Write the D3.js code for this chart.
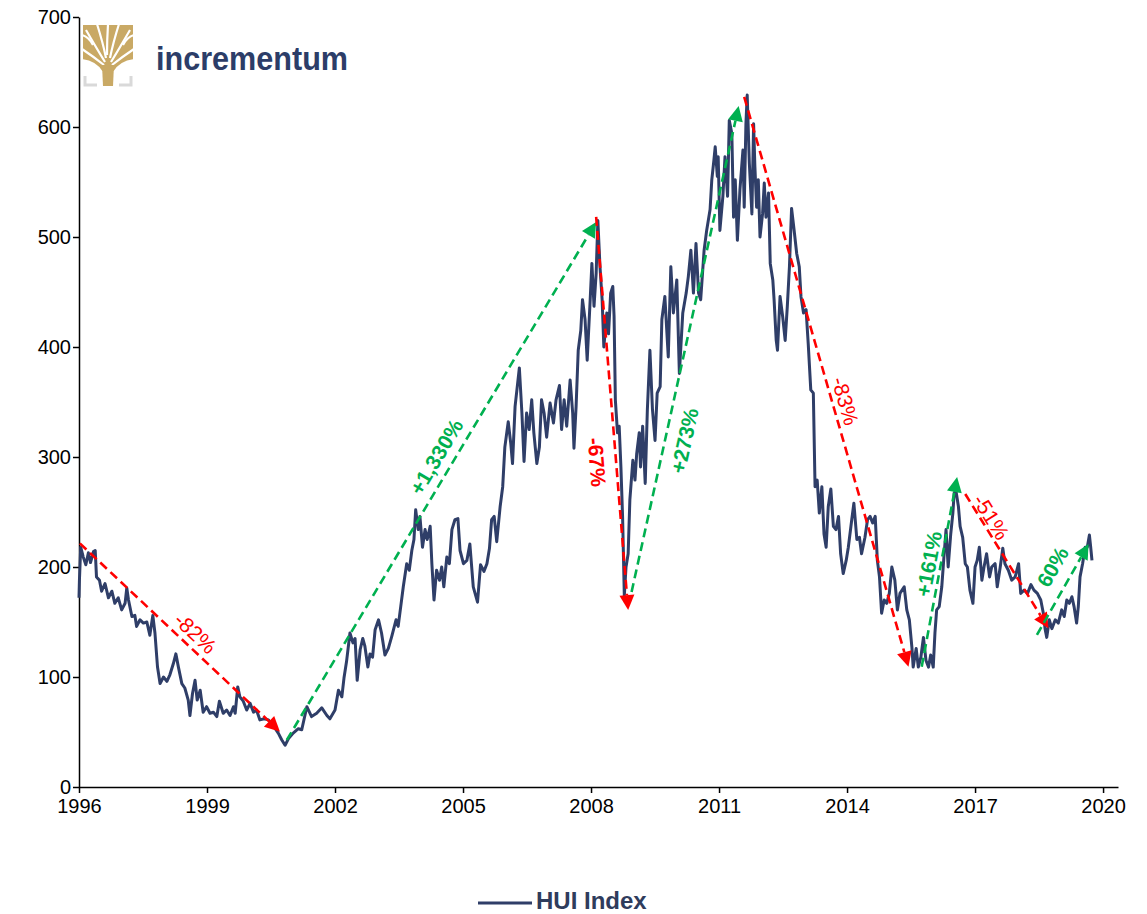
<!DOCTYPE html>
<html>
<head>
<meta charset="utf-8">
<script src="https://cdn.jsdelivr.net/npm/d3@7"></script>
<style>
  html, body { margin: 0; padding: 0; background: #fff; }
  svg { display: block; font-family: "Liberation Sans", Arial, sans-serif; }
</style>
</head>
<body>
<svg id="chart" width="1147" height="914"></svg>
<script>
// ---------------- DATA ----------------
const seriesName = "HUI Index";

const dates = [
  1996.00,1996.01,1996.04,1996.10,1996.16,1996.22,1996.27,1996.34,1996.38,1996.41,1996.48,1996.53,1996.61,1996.69,1996.77,1996.84,1996.92,
  1997.00,1997.08,1997.12,1997.16,1997.24,1997.31,1997.35,1997.43,1997.51,1997.59,1997.66,1997.73,1997.78,1997.84,1997.90,1997.98,
  1998.06,1998.13,1998.21,1998.27,1998.33,1998.41,1998.48,1998.56,1998.60,1998.66,1998.72,1998.77,1998.84,1998.91,1998.99,
  1999.07,1999.15,1999.23,1999.29,1999.38,1999.46,1999.54,1999.62,1999.66,1999.72,1999.77,1999.85,1999.93,
  2000.01,2000.09,2000.16,2000.24,2000.34,2000.44,2000.55,2000.67,2000.75,2000.83,2000.91,
  2001.02,2001.14,2001.22,2001.34,2001.45,2001.57,2001.69,2001.81,2001.88,
  2002.00,2002.08,2002.16,2002.21,2002.27,2002.35,2002.42,2002.47,2002.52,2002.59,2002.65,2002.70,2002.77,2002.82,2002.88,2002.94,
  2003.02,2003.09,2003.17,2003.25,2003.33,2003.43,2003.48,2003.54,2003.60,2003.68,2003.74,2003.80,2003.85,2003.89,2003.95,2003.99,
  2004.05,2004.11,2004.16,2004.23,2004.27,2004.32,2004.38,2004.45,2004.50,2004.55,2004.62,2004.68,2004.74,2004.81,2004.88,2004.93,
  2005.01,2005.09,2005.16,2005.24,2005.34,2005.41,2005.49,2005.56,2005.62,2005.67,2005.73,2005.79,2005.87,2005.93,2005.98,
  2006.06,2006.12,2006.16,2006.22,2006.32,2006.38,2006.43,2006.49,2006.55,2006.61,2006.66,2006.73,2006.79,2006.84,2006.90,2006.96,
  2007.04,2007.12,2007.18,2007.26,2007.31,2007.37,2007.43,2007.51,2007.57,2007.60,2007.65,2007.70,2007.76,2007.80,2007.86,2007.91,2007.98,
  2008.02,2008.07,2008.12,2008.16,2008.21,2008.26,2008.30,2008.37,2008.41,2008.46,2008.51,2008.54,2008.57,2008.62,2008.66,2008.70,2008.74,2008.78,2008.82,2008.87,2008.91,2008.98,
  2009.03,2009.07,2009.13,2009.16,2009.21,2009.27,2009.32,2009.38,2009.44,2009.50,2009.55,2009.62,2009.66,2009.73,2009.81,2009.87,2009.93,
  2010.01,2010.07,2010.15,2010.23,2010.28,2010.34,2010.40,2010.46,2010.52,2010.57,2010.65,2010.71,2010.79,2010.83,2010.88,2010.91,2010.96,2010.98,
  2011.02,2011.09,2011.14,2011.20,2011.24,2011.30,2011.34,2011.38,2011.43,2011.49,2011.56,2011.59,2011.63,2011.66,2011.71,2011.77,2011.81,2011.84,2011.88,2011.92,2011.96,
  2012.02,2012.06,2012.10,2012.16,2012.20,2012.26,2012.29,2012.34,2012.37,2012.43,2012.49,2012.55,2012.60,2012.65,2012.70,2012.76,2012.82,2012.88,2012.92,2012.98,
  2013.04,2013.09,2013.15,2013.21,2013.25,2013.30,2013.35,2013.41,2013.46,2013.51,2013.56,2013.62,2013.68,2013.74,2013.80,2013.85,2013.91,2013.98,
  2014.03,2014.11,2014.16,2014.23,2014.29,2014.34,2014.42,2014.48,2014.54,2014.60,2014.66,2014.71,2014.76,2014.81,2014.87,2014.93,2014.99,
  2015.05,2015.12,2015.18,2015.24,2015.34,2015.40,2015.46,2015.52,2015.55,2015.62,2015.67,2015.73,2015.79,2015.85,2015.91,2015.96,
  2016.02,2016.06,2016.10,2016.16,2016.22,2016.27,2016.32,2016.37,2016.43,2016.48,2016.51,2016.55,2016.61,2016.65,2016.71,2016.77,2016.82,2016.88,2016.95,
  2017.00,2017.05,2017.10,2017.16,2017.21,2017.27,2017.34,2017.39,2017.47,2017.52,2017.59,2017.65,2017.70,2017.78,2017.86,2017.94,
  2018.02,2018.07,2018.15,2018.23,2018.31,2018.38,2018.46,2018.54,2018.60,2018.64,2018.68,2018.74,2018.80,2018.88,2018.95,
  2019.03,2019.09,2019.15,2019.21,2019.27,2019.32,2019.38,2019.42,2019.46,2019.52,2019.58,2019.63,2019.68,2019.71,2019.74
];

const values = [
  172,188,218,209,202,213,204,214,215,191,188,178,185,172,178,167,172,
  161,167,181,170,155,156,146,152,149,150,138,156,140,109,94,100,
  96,102,112,121,109,94,90,79,65,85,97,79,88,68,73,
  67,68,64,78,67,70,65,73,67,91,82,78,70,
  76,68,70,61,62,61,56,49,43,38,44,
  49,53,52,73,64,67,72,65,62,
  70,88,82,99,114,140,131,135,97,125,135,128,109,121,118,143,
  152,140,120,126,137,152,146,164,182,203,197,215,225,252,234,246,
  218,234,225,237,203,170,197,188,200,182,209,203,234,243,244,215,
  203,206,221,182,168,202,196,203,217,243,246,223,255,273,309,
  332,312,294,346,381,340,296,340,325,352,322,294,309,352,340,318,
  349,331,352,365,325,352,328,370,340,308,346,397,415,443,425,388,443,
  476,437,467,515,473,443,400,431,412,449,455,428,352,322,328,291,245,174,200,212,261,297,
  279,303,322,291,328,276,343,397,343,315,358,364,425,446,391,473,431,
  461,376,431,449,464,488,449,494,449,443,488,506,525,552,570,582,555,573,
  506,537,573,537,606,594,518,552,497,543,579,527,603,629,567,521,603,564,527,552,500,
  521,549,518,540,476,461,443,406,397,446,428,406,437,473,526,506,485,473,446,431,
  434,403,361,358,273,279,249,273,230,218,255,271,237,234,246,212,194,206,
  218,243,258,225,227,212,227,243,246,240,246,206,191,158,170,167,176,
  200,188,161,176,182,161,152,127,109,126,109,118,136,115,109,120,
  109,140,161,164,182,209,234,200,230,249,267,270,255,237,227,203,200,179,167,
  200,206,218,188,200,212,191,200,203,182,200,217,203,197,188,191,
  203,176,179,176,184,179,176,170,158,144,136,152,144,152,149,
  161,155,170,167,173,164,149,164,191,203,218,218,229,218,206
];

const yTicks = [0, 100, 200, 300, 400, 500, 600, 700];
const xTicks = [1996, 1999, 2002, 2005, 2008, 2011, 2014, 2017, 2020];
const xTickLabels = ["1996", "1999", "2002", "2005", "2008", "2011", "2014", "2017", "2020"];

// Annotated moves: label, start (date, value), end (date, value), direction
const moveLabels = ["-82%", "+1,330%", "-67%", "+273%", "-83%", "+161%", "-51%", "60%"];
const moveStartDates = [1996.02, 2000.87, 2008.12, 2008.95, 2011.59, 2015.75, 2016.77, 2018.45];
const moveStartValues = [221.5, 42.7, 518.2, 177.3, 627.3, 109.4, 266.4, 138.2];
const moveEndDates = [2000.71, 2008.12, 2008.87, 2011.46, 2015.44, 2016.58, 2018.72, 2019.66];
const moveEndValues = [50.3, 513.6, 160.9, 619.0, 109.4, 281.8, 144.3, 220.9];
const moveIsUp = [false, true, false, true, false, true, false, true];

// ---------------- LAYOUT / STYLE ----------------
const labelPlacement = [
  { f: 0.53, off: 14, bold: false },
  { f: 0.53, off: 17, bold: true },
  { f: 0.62, off: -19, bold: true },
  { f: 0.32, off: -19, bold: true },
  { f: 0.54, off: 13, bold: false },
  { f: 0.53, off: 12, bold: true },
  { f: 0.21, off: 10, bold: false },
  { f: 0.64, off: 20, bold: true }
];
const RED = "#FF0000", GREEN = "#00B050", NAVY = "#2F3E68";

const svg = d3.select("#chart");
svg.append("rect").attr("width", 1147).attr("height", 914).attr("fill", "#fff");

const x = d3.scaleLinear().domain([1996, 2020.35]).range([79, 1118]);
const y = d3.scaleLinear().domain([0, 700]).range([787, 17]);

// Axes
const yAxis = svg.append("g").attr("transform", "translate(79,0)")
  .call(d3.axisLeft(y).tickValues(yTicks).tickSize(6).tickSizeOuter(0).tickPadding(2));
const xAxis = svg.append("g").attr("transform", "translate(0,787)")
  .call(d3.axisBottom(x).tickValues(xTicks).tickSize(6).tickSizeOuter(0).tickPadding(6)
    .tickFormat((d, i) => xTickLabels[i]));
[yAxis, xAxis].forEach(g => {
  g.selectAll("path, line").attr("stroke", "#000").attr("stroke-width", 1.5);
  g.selectAll("text").attr("fill", "#000").style("font-size", "20px")
    .style("font-family", "'Liberation Sans', Arial, sans-serif");
});

// Series line
const data = dates.map((d, i) => ({ t: d, v: values[i] }));
svg.append("path").datum(data)
  .attr("fill", "none").attr("stroke", NAVY).attr("stroke-width", 3)
  .attr("stroke-linejoin", "round")
  .attr("d", d3.line().x(d => x(d.t)).y(d => y(d.v)));

// Annotation arrows
const headLen = 15, headHalf = 7.5;
moveLabels.forEach((lab, i) => {
  const col = moveIsUp[i] ? GREEN : RED;
  const x0 = x(moveStartDates[i]), y0 = y(moveStartValues[i]);
  const x1 = x(moveEndDates[i]), y1 = y(moveEndValues[i]);
  const dx = x1 - x0, dy = y1 - y0, len = Math.hypot(dx, dy);
  const ux = dx / len, uy = dy / len;
  const bx = x1 - ux * headLen, by = y1 - uy * headLen;
  svg.append("line")
    .attr("x1", x0).attr("y1", y0).attr("x2", bx).attr("y2", by)
    .attr("stroke", col).attr("stroke-width", 2.6).attr("stroke-dasharray", "9,5");
  const nx = -uy, ny = ux;
  svg.append("path")
    .attr("d", `M${x1},${y1}L${bx + nx * headHalf},${by + ny * headHalf}L${bx - nx * headHalf},${by - ny * headHalf}Z`)
    .attr("fill", col);
  const p = labelPlacement[i];
  const ang = Math.atan2(dy, dx);
  const upx = Math.sin(ang), upy = -Math.cos(ang);
  const lx = x0 + dx * p.f + upx * p.off, ly = y0 + dy * p.f + upy * p.off;
  svg.append("text")
    .attr("transform", `translate(${lx},${ly}) rotate(${ang * 180 / Math.PI})`)
    .attr("text-anchor", "middle").attr("dominant-baseline", "central")
    .attr("fill", col).style("font-size", "21px")
    .style("font-weight", p.bold ? "bold" : "normal")
    .text(lab);
});

// Legend
const leg = svg.append("g");
leg.append("line").attr("x1", 478).attr("x2", 532).attr("y1", 903).attr("y2", 903)
  .attr("stroke", NAVY).attr("stroke-width", 3);
leg.append("text").attr("x", 536).attr("y", 909).attr("fill", "#2F3C5C")
  .style("font-size", "24px").style("font-weight", "bold").text(seriesName);

// Logo
const logo = svg.append("g").attr("transform", "translate(83,25)");
const GOLD = "#C9A965";
logo.append("rect").attr("x", 0).attr("y", 0).attr("width", 50).attr("height", 46).attr("fill", GOLD);
const gaps = [
  "M22,37 Q14,24 3,5", "M23,33 Q20,18 14,-1", "M27,33 Q30,18 36,-1", "M28,37 Q36,24 47,5",
  "M21,40 Q11,32 -1,24", "M29,40 Q39,32 51,24", "M24,30 Q24,15 25,-1",
  "M10,20 Q6,12 -1,10", "M40,20 Q44,12 51,10"
];
gaps.forEach(d => logo.append("path").attr("d", d).attr("fill", "none")
  .attr("stroke", "#fff").attr("stroke-width", 2.2));
logo.append("path").attr("d", "M-1,47 L-1,34 Q14,36 20,47 Z").attr("fill", "#fff");
logo.append("path").attr("d", "M51,47 L51,34 Q36,36 30,47 Z").attr("fill", "#fff");
logo.append("path").attr("d", "M19,40 L31,40 L30,61 L20,61 Z").attr("fill", GOLD);
logo.append("path").attr("d", "M2,51 L2,60 L14,60").attr("fill", "none").attr("stroke", "#D9D9D9").attr("stroke-width", 3);
logo.append("path").attr("d", "M48,51 L48,60 L36,60").attr("fill", "none").attr("stroke", "#D9D9D9").attr("stroke-width", 3);
svg.append("text").attr("x", 156).attr("y", 70).attr("fill", "#2C3D68")
  .attr("textLength", 192).attr("lengthAdjust", "spacingAndGlyphs")
  .style("font-size", "34px").style("font-weight", "bold").text("incrementum");
</script>
</body>
</html>
